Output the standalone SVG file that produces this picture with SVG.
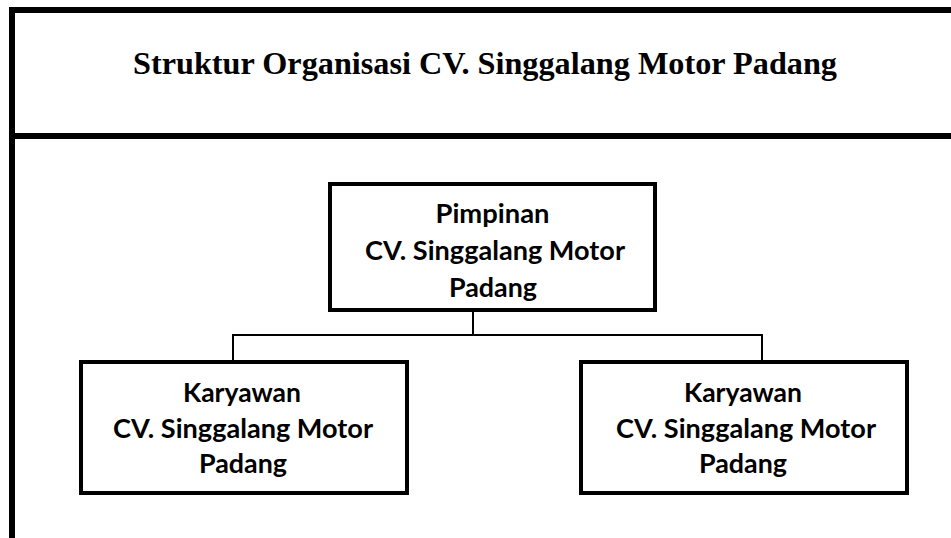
<svg xmlns="http://www.w3.org/2000/svg" width="951" height="538" viewBox="0 0 951 538">
<style>
.frame{stroke:#000;stroke-width:6;fill:none}
.box{fill:#fff;stroke:#000;stroke-width:4}
.conn{stroke:#000;stroke-width:2;fill:none}
.title{font-family:"Liberation Serif","Times New Roman",serif;font-weight:bold;font-size:31px;fill:#000}
.lbl{font-family:Lato,"Liberation Sans",sans-serif;font-weight:bold;font-size:26px;fill:#000;text-anchor:middle}
</style>
<rect x="0" y="0" width="951" height="538" fill="#fff"/>
<g id="frame">
<line class="frame" x1="9" y1="10" x2="951" y2="10"/>
<line class="frame" x1="12" y1="7" x2="12" y2="538"/>
<line class="frame" x1="9" y1="136" x2="951" y2="136"/>
<text class="title" x="133" y="74" textLength="704" lengthAdjust="spacingAndGlyphs">Struktur Organisasi CV. Singgalang Motor Padang</text>
</g>
<g id="connectors">
<line class="conn" x1="473" y1="312" x2="473" y2="335"/>
<line class="conn" x1="232" y1="335" x2="763" y2="335"/>
<line class="conn" x1="233" y1="335" x2="233" y2="360"/>
<line class="conn" x1="762" y1="335" x2="762" y2="360"/>
</g>
<g id="pimpinan">
<rect class="box" x="330" y="184" width="325" height="126"/>
<text class="lbl" x="492.5" y="223" textLength="114" lengthAdjust="spacingAndGlyphs">Pimpinan</text>
<text class="lbl" x="495" y="260" textLength="260" lengthAdjust="spacingAndGlyphs">CV. Singgalang Motor</text>
<text class="lbl" x="493" y="297" textLength="88" lengthAdjust="spacingAndGlyphs">Padang</text>
</g>
<g id="karyawan1">
<rect class="box" x="81" y="362" width="326" height="131"/>
<text class="lbl" x="242" y="402" textLength="118" lengthAdjust="spacingAndGlyphs">Karyawan</text>
<text class="lbl" x="243" y="438" textLength="260" lengthAdjust="spacingAndGlyphs">CV. Singgalang Motor</text>
<text class="lbl" x="243" y="473" textLength="88" lengthAdjust="spacingAndGlyphs">Padang</text>
</g>
<g id="karyawan2">
<rect class="box" x="581" y="362" width="326" height="131"/>
<text class="lbl" x="743" y="402" textLength="118" lengthAdjust="spacingAndGlyphs">Karyawan</text>
<text class="lbl" x="746" y="438" textLength="260" lengthAdjust="spacingAndGlyphs">CV. Singgalang Motor</text>
<text class="lbl" x="743" y="473" textLength="88" lengthAdjust="spacingAndGlyphs">Padang</text>
</g>
</svg>
